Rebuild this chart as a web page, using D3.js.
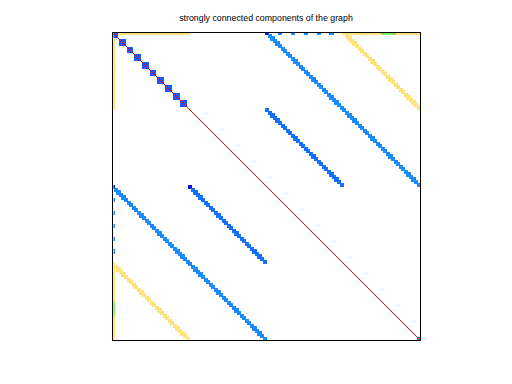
<!DOCTYPE html>
<html>
<head>
<meta charset="utf-8">
<script src="https://cdn.jsdelivr.net/npm/d3@7"></script>
<style>
  body { margin: 0; background: #fff; }
  svg { display: block; }
  .title { font-family: "Liberation Sans", Arial, sans-serif; font-size: 8.8px; fill: #000; }
</style>
</head>
<body>
<svg></svg>
<script>
// matrix size (nodes of the graph)
var N = 120;

// 2x2 diagonal blocks: start index of each block
var blockStart = [0, 3, 6, 9, 12, 15, 18, 21, 24, 27];

// diagonal bands of nonzeros: [startRow, startCol], length, component, component of first entry
var bandStart = [[0, 60], [60, 0], [30, 60], [60, 30], [0, 90], [90, 0]];
var bandLength = [60, 60, 30, 30, 30, 30];
var bandComp = ['c1', 'c1', 'c2', 'c2', 'c4', 'c4'];
var bandHead = ['c0', 'c0', 'c2', 'c0', 'c4', 'c4'];

// entries in the first row / first column: [from, to], component
var edgeRange = [[0, 29], [90, 104], [105, 110], [111, 119]];
var edgeComp = ['c4', 'c4', 'c5', 'c4'];

// single entries in row 0 / column 0
var edgeDots = [65, 70, 75, 80, 85];
var edgeDotComp = ['c1', 'c1', 'c1', 'c1', 'c1'];

// last diagonal entry
var cornerDot = [[119, 119]];

var compNames = ['c0', 'c1', 'c2', 'c3', 'c4', 'c5', 'c6'];
var compColors = ['#0018e0', '#1a8cff', '#1470ff', '#1a58ff', '#ffe27a', '#84ea6e', '#ff0000'];

var canvasWidth = 512;
var canvasHeight = 384;
var margin = { top: 32, right: 92, bottom: 44, left: 112 };
var width = canvasWidth - margin.left - margin.right;
var height = canvasHeight - margin.top - margin.bottom;

var svg = d3.select('svg')
  .attr('width', canvasWidth)
  .attr('height', canvasHeight);

svg.append('text')
  .attr('class', 'title')
  .attr('x', margin.left + width / 2)
  .attr('y', 21)
  .attr('text-anchor', 'middle')
  .text('strongly connected components of the graph');

svg.append('clipPath').attr('id', 'clip')
  .append('rect').attr('x', 1.5).attr('y', 1).attr('width', width - 1.5).attr('height', height - 1);

var g = svg.append('g')
  .attr('transform', 'translate(' + margin.left + ',' + margin.top + ')');
var plot = g.append('g').attr('clip-path', 'url(#clip)');

var xScale = d3.scaleLinear().domain([0, N]).range([0, width]);
var yScale = d3.scaleLinear().domain([0, N]).range([0, height]);
var color = d3.scaleOrdinal().domain(compNames).range(compColors);

// expand the pattern into [row, col, comp] entries
var entries = [];
edgeRange.forEach(function(r, k) {
  for (var j = r[0]; j <= r[1]; j++) {
    entries.push([0, j, edgeComp[k]]);
    entries.push([j, 0, edgeComp[k]]);
  }
});
bandStart.forEach(function(s, k) {
  for (var i = 0; i < bandLength[k]; i++) {
    entries.push([s[0] + i, s[1] + i, i == 0 ? bandHead[k] : bandComp[k]]);
  }
});
edgeDots.forEach(function(j, k) {
  entries.push([0, j, edgeDotComp[k]]);
  entries.push([j, 0, edgeDotComp[k]]);
});
blockStart.forEach(function(b) {
  [[0, 0], [0, 1], [1, 0], [1, 1]].forEach(function(o) {
    entries.push([b + o[0], b + o[1], 'c3']);
  });
});
cornerDot.forEach(function(c) { entries.push([c[0], c[1], 'c1']); });

var ms = 4.2;
plot.selectAll('rect.nz')
  .data(entries)
  .enter().append('rect')
  .attr('class', 'nz')
  .attr('x', function(d) { return xScale(d[1] + 0.5) - ms / 2; })
  .attr('y', function(d) { return yScale(d[0] + 0.5) - ms / 2; })
  .attr('width', ms)
  .attr('height', ms)
  .attr('shape-rendering', 'crispEdges')
  .style('fill', function(d) { return color(d[2]); });

// main diagonal (largest component)
plot.append('line')
  .attr('x1', xScale(0)).attr('y1', yScale(0))
  .attr('x2', xScale(N)).attr('y2', yScale(N))
  .attr('stroke', color('c6'))
  .attr('stroke-width', 1)
  .attr('shape-rendering', 'crispEdges');

// axes box
g.append('rect')
  .attr('x', 0).attr('y', 0)
  .attr('width', width).attr('height', height)
  .attr('fill', 'none')
  .attr('stroke', '#000')
  .attr('stroke-width', 1)
  .attr('shape-rendering', 'crispEdges');
</script>
</body>
</html>
